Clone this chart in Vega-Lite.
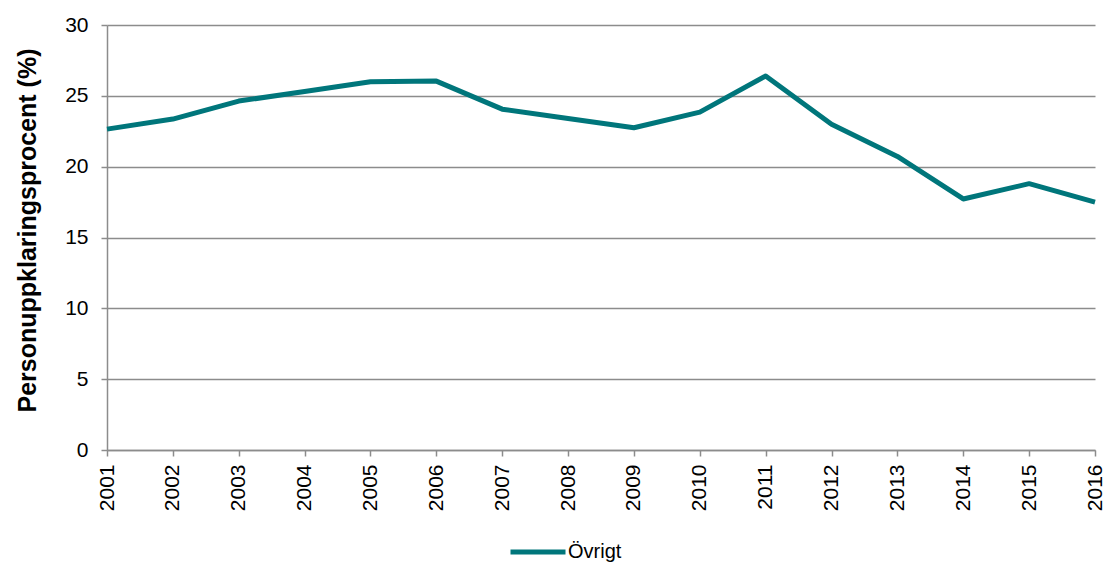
{
  "$schema": "https://vega.github.io/schema/vega-lite/v6.json",
  "width": 988,
  "height": 425,
  "autosize": "none",
  "padding": {"left": 107, "top": 25, "right": 14, "bottom": 118},
  "background": "white",
  "config": {
    "view": {"stroke": null},
    "font": "Liberation Sans"
  },
  "data": {
    "values": [
      {"year": "2001", "value": 22.65, "serie": "Övrigt"},
      {"year": "2002", "value": 23.36, "serie": "Övrigt"},
      {"year": "2003", "value": 24.63, "serie": "Övrigt"},
      {"year": "2004", "value": 25.3, "serie": "Övrigt"},
      {"year": "2005", "value": 26.0, "serie": "Övrigt"},
      {"year": "2006", "value": 26.04, "serie": "Övrigt"},
      {"year": "2007", "value": 24.06, "serie": "Övrigt"},
      {"year": "2008", "value": 23.4, "serie": "Övrigt"},
      {"year": "2009", "value": 22.75, "serie": "Övrigt"},
      {"year": "2010", "value": 23.85, "serie": "Övrigt"},
      {"year": "2011", "value": 26.4, "serie": "Övrigt"},
      {"year": "2012", "value": 23.0, "serie": "Övrigt"},
      {"year": "2013", "value": 20.72, "serie": "Övrigt"},
      {"year": "2014", "value": 17.72, "serie": "Övrigt"},
      {"year": "2015", "value": 18.8, "serie": "Övrigt"},
      {"year": "2016", "value": 17.5, "serie": "Övrigt"}
    ]
  },
  "mark": {"type": "line", "strokeWidth": 5, "strokeJoin": "round", "strokeCap": "butt"},
  "encoding": {
    "x": {
      "field": "year",
      "type": "ordinal",
      "scale": {"type": "point", "padding": 0},
      "axis": {
        "title": null,
        "labelAngle": -90,
        "labelAlign": "right",
        "labelBaseline": "middle",
        "labelFontSize": 21,
        "labelColor": "#000000",
        "labelPadding": 8,
        "domainColor": "#8c8c8c",
        "domainWidth": 1.5,
        "tickColor": "#8c8c8c",
        "tickWidth": 1.5,
        "tickSize": 6,
        "grid": false
      }
    },
    "y": {
      "field": "value",
      "type": "quantitative",
      "scale": {"domain": [0, 30], "nice": false},
      "axis": {
        "title": "Personuppklaringsprocent (%)",
        "titleFontSize": 25,
        "titleFontWeight": "bold",
        "titleColor": "#000000",
        "titlePadding": 24,
        "titleY": 205,
        "values": [0, 5, 10, 15, 20, 25, 30],
        "labelFontSize": 21,
        "labelColor": "#000000",
        "labelPadding": 13,
        "domainColor": "#8c8c8c",
        "domainWidth": 1.5,
        "tickColor": "#8c8c8c",
        "tickWidth": 1.5,
        "tickSize": 6,
        "grid": true,
        "gridColor": "#8c8c8c",
        "gridWidth": 1.5
      }
    },
    "color": {
      "field": "serie",
      "type": "nominal",
      "scale": {"range": ["#00767B"]},
      "legend": {
        "title": null,
        "orient": "none",
        "legendX": 401,
        "legendY": 497,
        "symbolType": "stroke",
        "symbolSize": 3025,
        "symbolStrokeWidth": 5,
        "labelFontSize": 20,
        "labelColor": "#000000",
        "labelOffset": 0
      }
    }
  }
}
